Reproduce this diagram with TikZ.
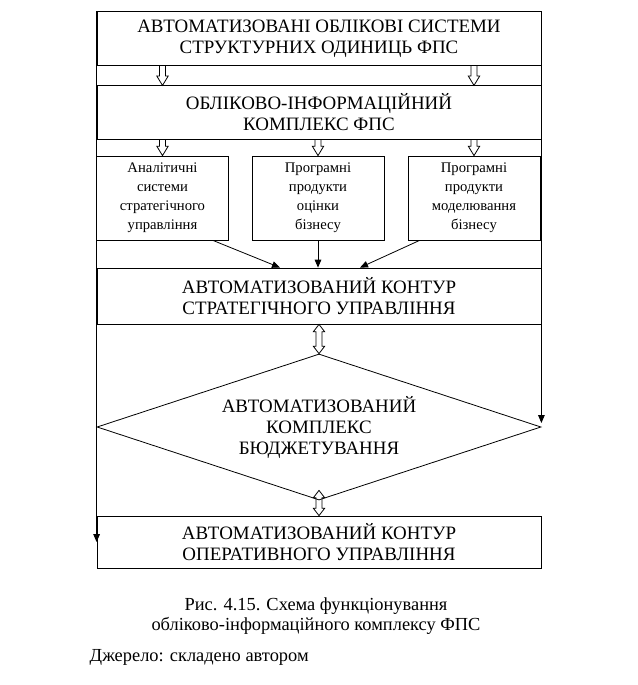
\documentclass[tikz,border=0pt]{standalone}
\usepackage{fontspec}
\setmainfont{Liberation Serif}
\usetikzlibrary{arrows.meta, positioning, shapes.geometric, calc}

\tikzset{
  widebox/.style={draw, line width=0.6pt, minimum width=333pt, minimum height=40pt,
    inner sep=0pt, align=center, font=\fontsize{14.2}{15.75}\selectfont},
  smallbox/.style={draw, line width=0.6pt, minimum width=99pt, minimum height=63pt,
    inner sep=0pt, align=center, font=\fontsize{11}{14.2}\selectfont},
  budgetbox/.style={draw, diamond, aspect=3.04, line width=0.6pt, minimum width=333pt,
    minimum height=109.5pt, inner sep=0pt, align=center, font=\fontsize{14.2}{15.75}\selectfont},
  flow/.style={line width=0.6pt, -{Triangle[length=6pt,width=5pt]}},
  hollowdown/.style={line width=0.6pt, to path={let \p1=(\tikztostart), \p2=(\tikztotarget) in
    (\x1-2.25pt,\y1) -- (\x1-2.25pt,\y2+7pt) -- (\x1-4.25pt,\y2+7pt) -- (\x2,\y2)
    -- (\x1+4.25pt,\y2+7pt) -- (\x1+2.25pt,\y2+7pt) -- (\x1+2.25pt,\y1)}},
  hollowboth/.style={line width=0.6pt, to path={let \p1=(\tikztostart), \p2=(\tikztotarget) in
    (\x1,\y1) -- (\x1-4.25pt,\y1-5.5pt) -- (\x1-2.25pt,\y1-5.5pt) -- (\x1-2.25pt,\y2+5.5pt)
    -- (\x1-4.25pt,\y2+5.5pt) -- (\x2,\y2) -- (\x1+4.25pt,\y2+5.5pt) -- (\x1+2.25pt,\y2+5.5pt)
    -- (\x1+2.25pt,\y1-5.5pt) -- (\x1+4.25pt,\y1-5.5pt) -- cycle}},
}

\begin{document}
\begin{tikzpicture}[x=0.75pt, y=-0.75pt]
  \useasboundingbox (0,0) rectangle (637,685);

  % upper levels
  \node[widebox] (units) at (319,38.5) {АВТОМАТИЗОВАНІ ОБЛІКОВІ СИСТЕМИ\\СТРУКТУРНИХ ОДИНИЦЬ ФПС};
  \node[widebox] (complex) at (319,112.5) {ОБЛІКОВО-ІНФОРМАЦІЙНИЙ\\КОМПЛЕКС ФПС};

  \node[smallbox] (analytic) at (162.5,198) {Аналітичні\\системи\\стратегічного\\управління};
  \node[smallbox] (valuation) at (318,198) {Програмні\\продукти\\оцінки\\бізнесу};
  \node[smallbox] (modeling) at (474,198) {Програмні\\продукти\\моделювання\\бізнесу};

  \node[widebox, minimum height=42pt] (strategic) at (319,296) {АВТОМАТИЗОВАНИЙ КОНТУР\\СТРАТЕГІЧНОГО УПРАВЛІННЯ};
  \node[budgetbox] (budget) at (319,427) {АВТОМАТИЗОВАНИЙ\\КОМПЛЕКС\\БЮДЖЕТУВАННЯ};
  \node[widebox, minimum height=39pt] (operative) at (319,542) {АВТОМАТИЗОВАНИЙ КОНТУР\\ОПЕРАТИВНОГО УПРАВЛІННЯ};

  % hollow arrows
  \draw[hollowdown] (units.south -| analytic) to (complex.north -| analytic);
  \draw[hollowdown] (units.south -| modeling) to (complex.north -| modeling);
  \draw[hollowdown] (complex.south -| analytic) to (analytic.north);
  \draw[hollowdown] (complex.south -| valuation) to (valuation.north);
  \draw[hollowdown] (complex.south -| modeling) to (modeling.north);
  \draw[hollowboth] (strategic.south) to (budget.north);
  \draw[hollowboth] ($(budget.south)+(0,-10)$) to (operative.north);

  % thin arrows
  \draw[flow] ($(analytic.south east)+(-16,0)$) -- ($(strategic.north)+(-39,0)$);
  \draw[flow] (valuation.south) -- (strategic.north -| valuation);
  \draw[flow] ($(modeling.south west)+(12,0)$) -- ($(strategic.north)+(41,0)$);
  \draw[flow] (units.north west) -- (operative.west);
  \draw[flow] (units.north east) -- ($(budget.east)+(0,-4)$);

  % caption
  \node[align=center, font=\fontsize{13.8}{14.5}\selectfont] (caption) at (316,616)
    {Рис. 4.15. Схема функціонування\\обліково-інформаційного комплексу ФПС};
  \node[anchor=west, font=\fontsize{13.8}{15}\selectfont] (source) at (85,657) {Джерело: складено автором};
\end{tikzpicture}
\end{document}
